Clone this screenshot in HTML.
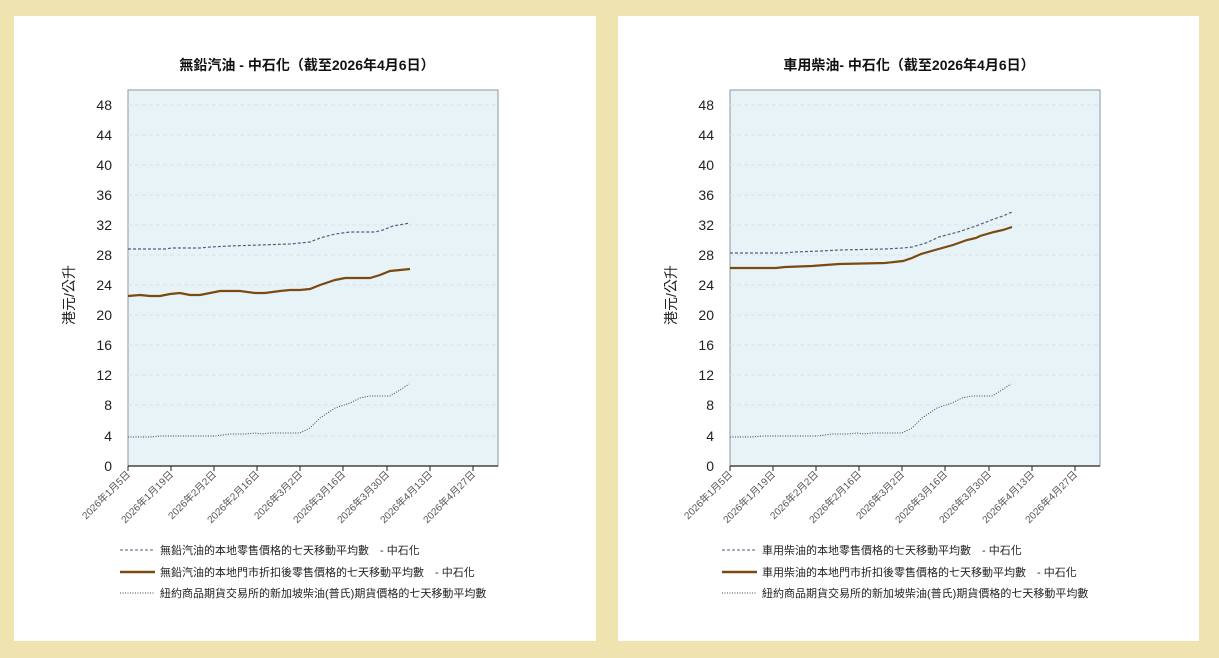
<!DOCTYPE html><html><head><meta charset="utf-8"><style>
body{margin:0;background:#efe3b0;}
svg{display:block;font-family:"Liberation Sans","Noto Sans CJK TC",sans-serif;}
</style></head><body>
<svg width="1219" height="658" xmlns="http://www.w3.org/2000/svg">
<rect width="1219" height="658" fill="#efe3b0"/>
<rect x="14" y="16" width="582" height="625" fill="#fff"/>
<rect x="618" y="16" width="581" height="625" fill="#fff"/>
<defs>
<g id="axes">
<rect x="128" y="90" width="370" height="376" fill="#e8f3f8" stroke="#8a9aa0"/>
<g stroke="#d8e2e8" stroke-dasharray="4,3">
<path d="M128 105H498M128 135H498M128 165H498M128 195H498M128 225H498M128 255H498M128 285H498M128 315H498M128 345H498M128 375H498M128 405H498M128 436H498"/>
</g>
<path d="M128 466H498" stroke="#222" stroke-width="1.2"/>
<g stroke="#222"><path d="M128 466v5M171 466v5M214 466v5M257 466v5M300 466v5M343 466v5M387 466v5M430 466v5M473 466v5"/></g>
<g font-size="14" fill="#222" text-anchor="end">
<text x="112" y="110">48</text><text x="112" y="140">44</text><text x="112" y="170">40</text><text x="112" y="200">36</text><text x="112" y="230">32</text><text x="112" y="260">28</text><text x="112" y="290">24</text><text x="112" y="320">20</text><text x="112" y="350">16</text><text x="112" y="380">12</text><text x="112" y="410">8</text><text x="112" y="441">4</text><text x="112" y="471">0</text>
</g>
<g font-size="10" fill="#555" text-anchor="end">
<text transform="translate(131,475) rotate(-45)">2026年1月5日</text>
<text transform="translate(174,475) rotate(-45)">2026年1月19日</text>
<text transform="translate(217,475) rotate(-45)">2026年2月2日</text>
<text transform="translate(260,475) rotate(-45)">2026年2月16日</text>
<text transform="translate(303,475) rotate(-45)">2026年3月2日</text>
<text transform="translate(346,475) rotate(-45)">2026年3月16日</text>
<text transform="translate(390,475) rotate(-45)">2026年3月30日</text>
<text transform="translate(433,475) rotate(-45)">2026年4月13日</text>
<text transform="translate(476,475) rotate(-45)">2026年4月27日</text>
</g>
<text transform="translate(74,295) rotate(-90)" font-size="14" fill="#222" text-anchor="middle">港元/公升</text>
<path d="M120 550H155" stroke="#5a5a80" stroke-dasharray="3,2"/>
<path d="M120 572H155" stroke="#7a4a10" stroke-width="2.5"/>
<path d="M120 593H155" stroke="#3a4a60" stroke-dasharray="1,1.5"/>
<path d="M128 437L150 437L160 436L215 436L230 434L245 434L255 433L262 434L270 433L300 433L310 428L320 418L335 408L350 403L360 398L370 396L390 396L400 390L409 384" fill="none" stroke="#3a4a60" stroke-dasharray="1,1.5"/>
</g>
</defs>
<use href="#axes"/>
<use href="#axes" transform="translate(602,0)"/>
<text x="307" y="70" font-size="14" font-weight="bold" text-anchor="middle" fill="#111">無鉛汽油 - 中石化（截至2026年4月6日）</text>
<text x="909" y="70" font-size="14" font-weight="bold" text-anchor="middle" fill="#111">車用柴油- 中石化（截至2026年4月6日）</text>
<g font-size="11" fill="#222">
<text x="160" y="554">無鉛汽油的本地零售價格的七天移動平均數　- 中石化</text>
<text x="160" y="576">無鉛汽油的本地門市折扣後零售價格的七天移動平均數　- 中石化</text>
<text x="160" y="597">紐約商品期貨交易所的新加坡柴油(普氏)期貨價格的七天移動平均數</text>
<text x="762" y="554">車用柴油的本地零售價格的七天移動平均數　- 中石化</text>
<text x="762" y="576">車用柴油的本地門市折扣後零售價格的七天移動平均數　- 中石化</text>
<text x="762" y="597">紐約商品期貨交易所的新加坡柴油(普氏)期貨價格的七天移動平均數</text>
</g>
<path d="M128 249L165 249L172 248L200 248L210 247L230 246L290 244L300 243L310 242L320 238L335 234L350 232L375 232L383 230L393 226L410 223" fill="none" stroke="#5a5a80" stroke-dasharray="3,2" stroke-width="1.2"/>
<path d="M128 296L140 295L150 296L160 296L170 294L180 293L190 295L200 295L210 293L220 291L240 291L255 293L265 293L280 291L290 290L300 290L310 289L320 285L335 280L345 278L370 278L380 275L390 271L400 270L410 269" fill="none" stroke="#7a4a10" stroke-width="2.2"/>
<g transform="translate(602,0)">
<path d="M128 253L183 253L192 252L219 251L237 250L283 249L301 248L310 247L324 243L337 237L356 232L374 226L392 219L401 216L410 212" fill="none" stroke="#5a5a80" stroke-dasharray="3,2" stroke-width="1.2"/>
<path d="M128 268L174 268L183 267L210 266L237 264L283 263L292 262L301 261L310 258L319 254L333 250L351 245L365 240L374 238L378 236L392 232L401 230L410 227" fill="none" stroke="#7a4a10" stroke-width="2.2"/>
</g>
</svg>
</body></html>
